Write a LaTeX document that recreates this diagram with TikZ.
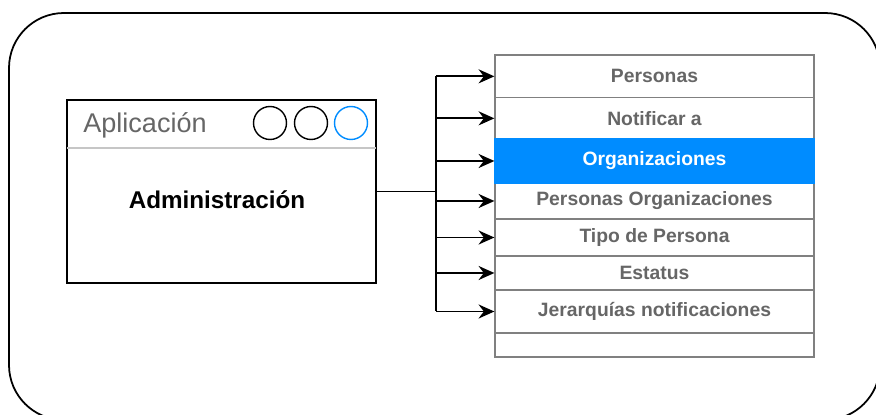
\documentclass[tikz,border=0pt]{standalone}
\usepackage{fontspec}
\setmainfont{Liberation Sans}
\usetikzlibrary{arrows.meta}

\definecolor{selblue}{RGB}{0,140,255}
\definecolor{txtgray}{RGB}{102,102,102}
\definecolor{rowgray}{RGB}{128,128,128}

\tikzset{
	listrow/.style={draw=rowgray, line width=.75pt, inner sep=0pt,
		minimum width=6.38cm, text=txtgray,
		font=\fontsize{11}{13}\selectfont\bfseries},
	link/.style={line width=1pt, -{Stealth[length=9pt, width=8pt, inset=3pt]}},
	winbtn/.style={circle, draw, line width=.8pt, minimum size=.66cm, inner sep=0pt}
}

\begin{document}
\begin{tikzpicture}[x=.02cm, y=-.02cm]
	\useasboundingbox (0,0) rectangle (876,415);
	\draw[line width=1pt, rounded corners=1.1cm] (9,13) rectangle (880,420);

	% application window
	\node[draw, line width=1pt, minimum width=6.18cm, minimum height=3.66cm] (app) at (221.5,191.5) {};
	\draw[gray!45, line width=.75pt] (67,148) -- (376,148);
	\node[text=txtgray, font=\fontsize{15.4}{18}\selectfont] (title) at (145,125) {Aplicación};
	\node[winbtn] (btn1) at (270,123) {};
	\node[winbtn] (btn2) at (311,123) {};
	\node[winbtn, draw=selblue] (btn3) at (351,123) {};
	\node[font=\fontsize{13.8}{16}\selectfont\bfseries] (admin) at (217,200) {Administración};

	% menu list
	\foreach \n/\yc/\h/\t in {1/76.35/.854/Personas, 2/118.35/.826/Notificar a,
		3/161/.88/Organizaciones, 4/201/.72/Personas Organizaciones,
		5/237.5/.74/Tipo de Persona, 6/273/.68/Estatus,
		7/311.5/.86/Jerarquías notificaciones, 8/345/.48/{}}
		\node[listrow, minimum height=\h cm] (row\n) at (654.5,\yc) {\t};
	\node[listrow, minimum height=.88cm, fill=selblue, draw=selblue, text=white] at (row3) {Organizaciones};

	% connectors
	\coordinate (split) at (436,191.5);
	\draw[line width=1pt] (app.east) -- (split);
	\draw[line width=1pt] (split |- row1.west) -- (split |- row7.west);
	\foreach \n in {1,...,7}
		\draw[link] (split |- row\n.west) -- (row\n.west);
\end{tikzpicture}
\end{document}
